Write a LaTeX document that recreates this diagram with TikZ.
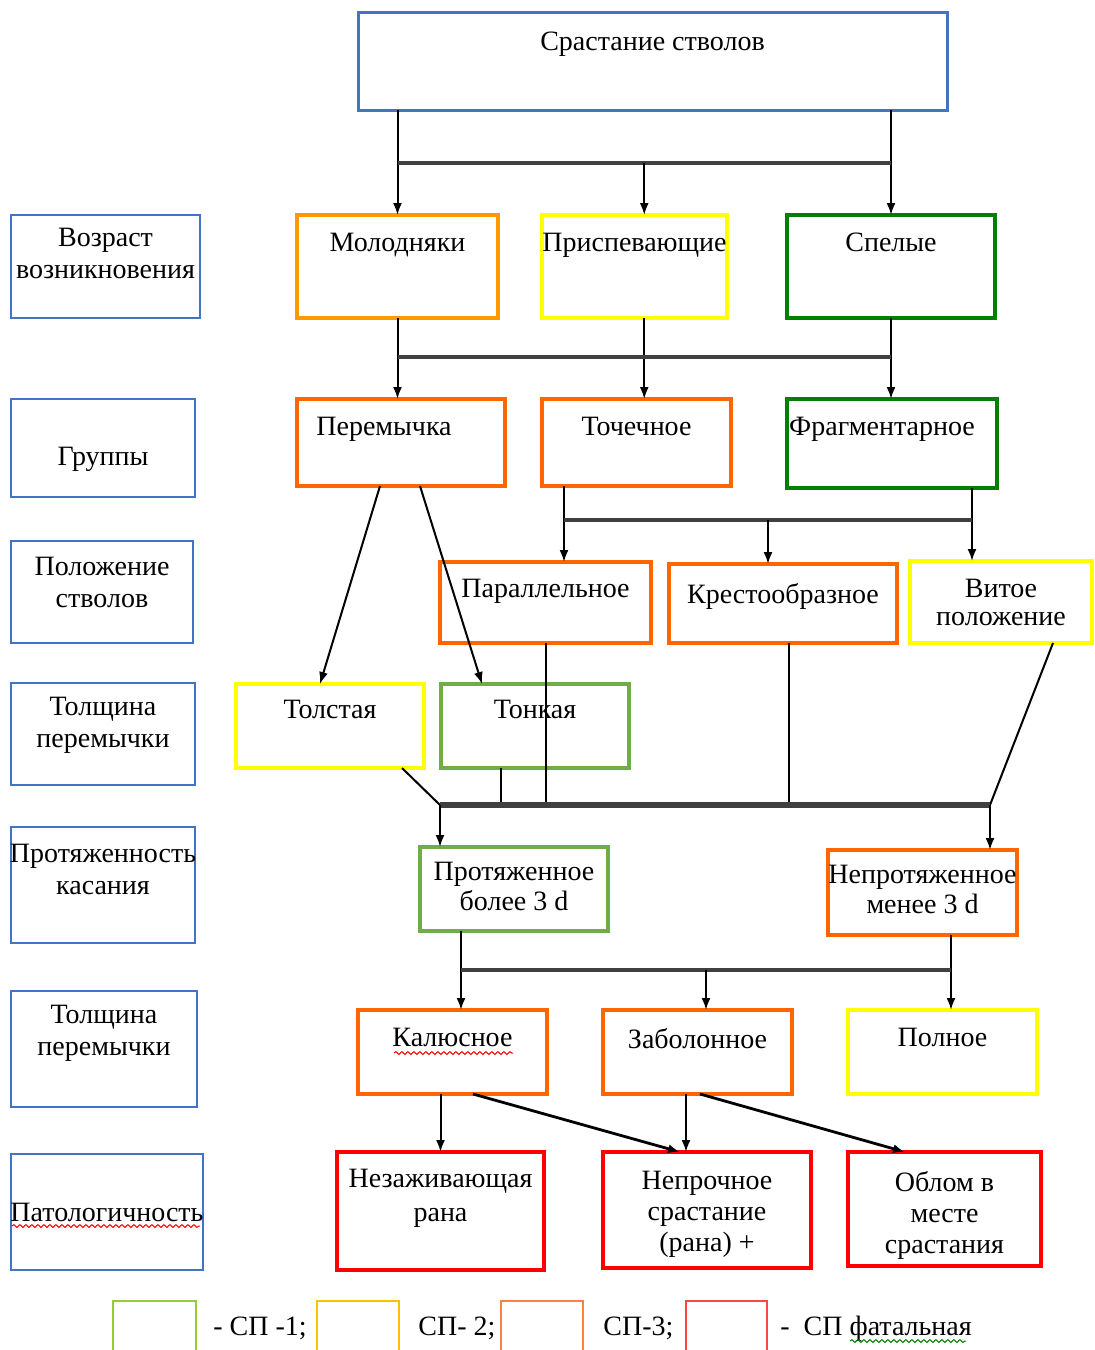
\documentclass[tikz,border=0pt]{standalone}
\usepackage{fontspec}
\setmainfont{Liberation Serif}
\usetikzlibrary{arrows.meta,fit,calc,decorations.pathmorphing}

\definecolor{cBlue}{RGB}{68,114,196}
\definecolor{cAmber}{RGB}{255,153,0}
\definecolor{cOrange}{RGB}{255,102,0}
\definecolor{cYellow}{RGB}{255,255,0}
\definecolor{cGreen}{RGB}{0,128,0}
\definecolor{cLime}{RGB}{112,173,71}
\definecolor{cRed}{RGB}{255,0,0}
\definecolor{kLime}{RGB}{150,205,50}
\definecolor{kGold}{RGB}{255,192,0}
\definecolor{kOrange}{RGB}{255,130,60}
\definecolor{kRed}{RGB}{255,70,70}

\tikzset{
  cbox/.style={draw=#1, line width=2pt, inner sep=0pt, outer sep=0pt},
  kbox/.style={draw=cBlue, line width=1pt, inner sep=0pt, outer sep=0pt},
  txt/.style={font=\fontsize{14}{16}\selectfont, align=center, inner sep=0pt},
  ttop/.style={txt, anchor=north, yshift=-#1*0.5pt},
  line/.style={line width=1pt},
  arr/.style={line width=1pt, -{Latex[length=6pt,width=4.5pt]}},
  bar/.style={line width=1.8pt, black!75},
  key/.style={draw=#1, line width=0.8pt, inner sep=0pt, outer sep=0pt},
  wavy/.style={draw=#1, line width=0.5pt, decorate, decoration={snake, amplitude=0.7pt, segment length=3pt}},
}

\begin{document}
\begin{tikzpicture}[x=0.5pt, y=-0.5pt]
    \useasboundingbox (0,0) rectangle (1094,1350);
    \clip (0,0) rectangle (1094,1350);

    % left column
    \node[kbox, fit={(11,215) (200,318)}, label={[ttop=13]north:{Возраст\\возникновения}}] (lVoz) {};
    \node[kbox, fit={(11,399) (195,497)}, label={[ttop=48]north:Группы}] (lGrp) {};
    \node[kbox, fit={(11,541) (193,643)}, label={[ttop=16]north:{Положение\\стволов}}] (lPos) {};
    \node[kbox, fit={(11,683) (195,785)}, label={[ttop=14]north:{Толщина\\перемычки}}] (lTol) {};
    \node[kbox, fit={(11,827) (195,943)}, label={[ttop=17]north:{Протяженность\\касания}}] (lPrk) {};
    \node[kbox, fit={(11,991) (197,1107)}, label={[ttop=14]north:{Толщина\\перемычки}}] (lTol2) {};
    \node[kbox, fit={(11,1154) (203,1270)}, label={[txt]center:Патологичность}] (lPat) {};

    % boxes
    \node[cbox=cBlue, line width=1.5pt, fit={(358,12) (947,110)}, label={[ttop=20]north:Срастание стволов}] (top) {};
    \node[cbox=cAmber, fit={(297,215) (498,318)}, label={[ttop=18]north:Молодняки}] (mol) {};
    \node[cbox=cYellow, fit={(542,215) (727,318)}, label={[ttop=18]north:Приспевающие}] (pri) {};
    \node[cbox=cGreen, fit={(787,215) (995,318)}, label={[ttop=18]north:Спелые}] (spe) {};
    \node[cbox=cOrange, fit={(297,399) (505,486)}, label={[ttop=18, xshift=-8.5pt]north:Перемычка}] (per) {};
    \node[cbox=cOrange, fit={(542,399) (731,486)}, label={[ttop=18]north:Точечное}] (toch) {};
    \node[cbox=cGreen, fit={(787,399) (997,488)}, label={[ttop=18, xshift=-5pt]north:Фрагментарное}] (frag) {};
    \node[cbox=cOrange, fit={(440,562) (651,643)}, label={[ttop=17]north:Параллельное}] (par) {};
    \node[cbox=cOrange, fit={(669,564) (897,643)}, label={[ttop=19]north:Крестообразное}] (krest) {};
    \node[cbox=cYellow, fit={(910,561) (1092,643)}, label={[ttop=18, font=\fontsize{14}{14}\selectfont]north:{Витое\\положение}}] (vit) {};
    \node[cbox=cYellow, fit={(236,684) (424,768)}, label={[ttop=16]north:Толстая}] (tol) {};
    \node[cbox=cLime, fit={(441,684) (629,768)}, label={[ttop=16]north:Тонкая}] (ton) {};
    \node[cbox=cLime, fit={(420,847) (608,931)}, label={[ttop=15, font=\fontsize{14}{15}\selectfont]north:{Протяженное\\более 3 d}}] (prot) {};
    \node[cbox=cOrange, fit={(828,850) (1017,935)}, label={[ttop=15, font=\fontsize{14}{15}\selectfont]north:{Непротяженное\\менее 3 d}}] (neprot) {};
    \node[cbox=cOrange, fit={(358,1010) (547,1094)}, label={[ttop=18]north:Калюсное}] (kal) {};
    \node[cbox=cOrange, fit={(603,1010) (792,1094)}, label={[ttop=18]north:Заболонное}] (zab) {};
    \node[cbox=cYellow, fit={(848,1010) (1037,1094)}, label={[ttop=18]north:Полное}] (poln) {};
    \node[cbox=cRed, fit={(337,1152) (544,1270)}, label={[ttop=17, font=\fontsize{14}{17}\selectfont]north:{Незаживающая\\рана}}] (nez) {};
    \node[cbox=cRed, fit={(603,1152) (811,1268)}, label={[ttop=19, font=\fontsize{14}{15.5}\selectfont]north:{Непрочное\\срастание\\(рана) +}}] (nep) {};
    \node[cbox=cRed, fit={(848,1152) (1041,1266)}, label={[ttop=19, font=\fontsize{14}{15.5}\selectfont]north:{Облом в\\месте\\срастания}}] (obl) {};

    % top -> age
    \coordinate (j1) at (397.5,163);
    \coordinate (k1) at (891,163);
    \coordinate (m1) at ($(j1)!0.5!(k1)$);
    \draw[arr] (top.south -| mol.north) -- (mol.north);
    \draw[arr] (top.south -| spe.north) -- (spe.north);
    \draw[bar] (j1) -- (k1);
    \draw[arr] (m1) -- (m1 |- pri.north);

    % age -> groups
    \coordinate (j2) at (397.5,357);
    \coordinate (k2) at (891,357);
    \draw[arr] (mol.south) -- (mol.south |- per.north);
    \draw[arr] (m1 |- pri.south) -- (m1 |- toch.north);
    \draw[arr] (spe.south) -- (spe.south |- frag.north);
    \draw[bar] (j2) -- (k2);

    % groups -> position
    \coordinate (j3) at (564,520);
    \coordinate (k3) at (972,520);
    \coordinate (m3) at ($(j3)!0.5!(k3)$);
    \draw[arr] (j3 |- toch.south) -- (j3 |- par.north);
    \draw[arr] (k3 |- frag.south) -- (k3 |- vit.north);
    \draw[bar] (j3) -- (k3);
    \draw[arr] (m3) -- (m3 |- krest.north);

    % bridge thickness
    \draw[arr] ([xshift=-10.5pt]per.south) -- ([xshift=-5pt]tol.north);
    \draw[arr] ([xshift=9.5pt]per.south) -- ([xshift=-26.5pt]ton.north);

    % -> contact length
    \coordinate (j5) at (440,805);
    \coordinate (k5) at (990,805);
    \draw[line] ([xshift=-11pt]tol.south east) -- (j5);
    \draw[line] ([xshift=-17pt]ton.south) -- ([xshift=-17pt]ton.south |- j5);
    \draw[line] (par.south) -- (par.south |- j5);
    \draw[line] ([xshift=3pt]krest.south) -- ([xshift=3pt]krest.south |- j5);
    \draw[line] ([xshift=26pt]vit.south) -- (k5);
    \draw[bar, line width=2.6pt] (j5) -- (k5);
    \draw[arr] (j5) -- (j5 |- prot.north);
    \draw[arr] (k5) -- (k5 |- neprot.north);

    % -> fusion type
    \coordinate (j6) at (461,970);
    \coordinate (k6) at (951,970);
    \coordinate (m6) at ($(j6)!0.5!(k6)$);
    \draw[arr] (j6 |- prot.south) -- (j6 |- kal.north);
    \draw[arr] (k6 |- neprot.south) -- (k6 |- poln.north);
    \draw[bar] (j6) -- (k6);
    \draw[arr] (m6) -- (m6 |- zab.north);

    % -> pathology
    \draw[arr] (nez.north |- kal.south) -- (nez.north);
    \draw[arr, line width=1.4pt] ([xshift=10.25pt]kal.south) -- ([xshift=-13.5pt]nep.north);
    \draw[arr] ([xshift=-5.75pt]zab.south) -- ([xshift=-5.75pt]zab.south |- nep.north);
    \draw[arr, line width=1.4pt] ([xshift=1.25pt]zab.south) -- ([xshift=-19.75pt]obl.north);

    % legend
    \node[key=kLime, fit={(113,1301) (196,1370)}] (key1) {};
    \node[key=kGold, fit={(317,1301) (399,1370)}] (key2) {};
    \node[key=kOrange, fit={(501,1301) (583,1370)}] (key3) {};
    \node[key=kRed, fit={(686,1301) (767,1370)}] (key4) {};
    \node[txt, anchor=base west] (txt1) at (213,1335) {- СП -1;};
    \node[txt, anchor=base west] (txt2) at (418,1335) {СП- 2;};
    \node[txt, anchor=base west] (txt3) at (603,1335) {СП-3;};
    \node[txt, anchor=base west] (txt4) at (780,1335) {-\ \ СП фатальная};

    % spell-check marks
    \draw[wavy=red] (394,1053) -- (513,1053);
    \draw[wavy=red] (12,1226) -- (200,1226);
    \draw[wavy=cGreen] (850,1341) -- (966,1341);
\end{tikzpicture}
\end{document}
